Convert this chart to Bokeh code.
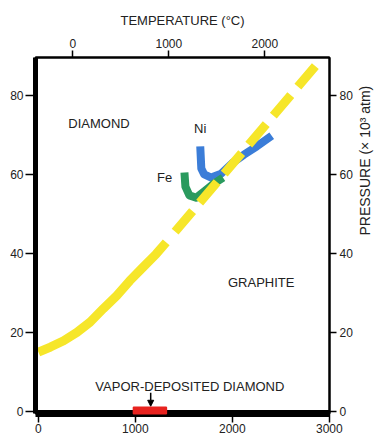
import math
from bokeh.plotting import figure
from bokeh.models import (Range1d, LinearAxis, FixedTicker, Arrow, NormalHead,
                          ColumnDataSource)
from bokeh.core.properties import value
from bokeh.embed import file_html
from bokeh.resources import INLINE

# ---------------- data (temperature in K, pressure in 10^3 atm) ----------------
boundary_T_solid = [0, 124, 260, 397, 533, 669, 807, 943, 1079, 1216, 1318]
boundary_P_solid = [14.9, 16.2, 17.8, 19.9, 22.5, 25.9, 29.2, 33.0, 36.4, 39.8, 42.7]
boundary_T_dash = [1410, 2886]
boundary_P_dash = [45.4, 88.2]

ni_T = [1669, 1680, 1710, 1782, 1885, 1997, 2120, 2253, 2406]
ni_P = [67.0, 61.4, 59.9, 59.1, 60.1, 62.7, 64.9, 67.0, 69.7]

fe_T = [1506, 1516, 1557, 1628, 1720, 1812, 1904]
fe_P = [60.4, 56.8, 54.6, 54.0, 55.8, 57.6, 59.1]

vapor_T = [980, 1320]          # vapor-deposited diamond range
vapor_P = [-0.7, 0.96]

kelvin_ticks = [0, 1000, 2000, 3000]
celsius_ticks = [0, 1000, 2000]
pressure_ticks = [0, 20, 40, 60, 80]

# celsius scale as drawn on the top of the chart
celsius_zero_K = 356
celsius_scale = 0.9895

labels = ["DIAMOND", "GRAPHITE", "Ni", "Fe"]
label_T = [308, 1955, 1669, 1301]
label_P = [72.8, 32.5, 71.5, 59.1]
label_align = ["left", "left", "center", "center"]

vapor_label = "VAPOR-DEPOSITED DIAMOND"
vapor_label_T = 1562
vapor_label_P = 6.2
arrow_T = 1158
arrow_P = [4.6, 1.2]

# ---------------- figure ----------------
FONT = "Liberation Sans"
x_start, x_end = -30, 3002
y_start, y_end = -0.63, 89.5

p = figure(width=383, height=435, output_backend="svg", toolbar_location=None,
           x_range=Range1d(x_start, x_end), y_range=Range1d(y_start, y_end),
           min_border_left=35, min_border_right=53, min_border_top=57,
           min_border_bottom=22, x_axis_location="below", y_axis_location="left")
p.grid.visible = False
p.outline_line_color = "black"
p.outline_line_width = 2
p.background_fill_color = "white"
p.border_fill_color = "white"

p.extra_x_ranges = {"celsius": Range1d((x_start - celsius_zero_K) / celsius_scale,
                                       (x_end - celsius_zero_K) / celsius_scale)}


def style_axis(ax, ticks, line_width):
    ax.ticker = FixedTicker(ticks=ticks)
    ax.axis_line_width = line_width
    ax.axis_line_color = "black"
    ax.major_tick_line_color = "black"
    ax.major_tick_line_width = 1.5
    ax.major_tick_in = 0
    ax.major_tick_out = 7
    ax.minor_tick_line_color = None
    ax.major_label_text_font = FONT
    ax.major_label_text_font_size = "12px"
    ax.major_label_text_color = "#222222"
    ax.major_label_standoff = 3
    ax.axis_label_text_font = FONT
    ax.axis_label_text_font_style = "normal"
    ax.axis_label_text_font_size = "13px"
    ax.axis_label_text_color = "#222222"


xb = p.xaxis[0]
style_axis(xb, kelvin_ticks, 7)
xb.major_tick_out = 9
xb.major_label_standoff = 1

yl = p.yaxis[0]
style_axis(yl, pressure_ticks, 5)
yl.major_tick_out = 10
yl.major_label_standoff = 2

top = LinearAxis(x_range_name="celsius", axis_label="TEMPERATURE (°C)")
style_axis(top, celsius_ticks, 2)
top.axis_label_standoff = 8
p.add_layout(top, "above")

right = LinearAxis(axis_label="PRESSURE (× 10³ atm)")
style_axis(right, pressure_ticks, 2)
right.axis_label_standoff = 9
right.axis_label_text_font_size = "14px"
right.axis_label_orientation = math.pi / 2
p.add_layout(right, "right")

# ---------------- glyphs ----------------
YELLOW = "#f6e62a"
BLUE = "#3b7dd8"
GREEN = "#2a9a5e"
RED = "#e8231f"

p.line(ni_T, ni_P, line_color=BLUE, line_width=8, line_join="round", line_cap="butt")
p.line(fe_T, fe_P, line_color=GREEN, line_width=8, line_join="round", line_cap="butt")

p.line(boundary_T_solid, boundary_P_solid, line_color=YELLOW, line_width=9,
       line_join="round", line_cap="butt")
p.line(boundary_T_dash, boundary_P_dash, line_color=YELLOW, line_width=9,
       line_dash="27 11", line_cap="butt")

r = p.quad(left=[vapor_T[0]], right=[vapor_T[1]], bottom=[vapor_P[0]], top=[vapor_P[1]],
           fill_color=RED, line_color=RED, line_width=1.5)
r.level = "overlay"

src = ColumnDataSource(dict(x=label_T, y=label_P, text=labels, align=label_align))
p.text(x="x", y="y", text="text", text_align="align", source=src,
       text_baseline="middle", text_font=value(FONT), text_font_size="13px",
       text_color="#222222")
p.text(x=[vapor_label_T], y=[vapor_label_P], text=[vapor_label], text_align="center",
       text_baseline="middle", text_font=value(FONT), text_font_size="13px",
       text_color="#222222")

p.add_layout(Arrow(end=NormalHead(size=6, fill_color="black", line_color="black"),
                   x_start=arrow_T, y_start=arrow_P[0], x_end=arrow_T, y_end=arrow_P[1],
                   line_color="black", line_width=1.5))

open("out.html", "w").write(file_html(p, INLINE))
